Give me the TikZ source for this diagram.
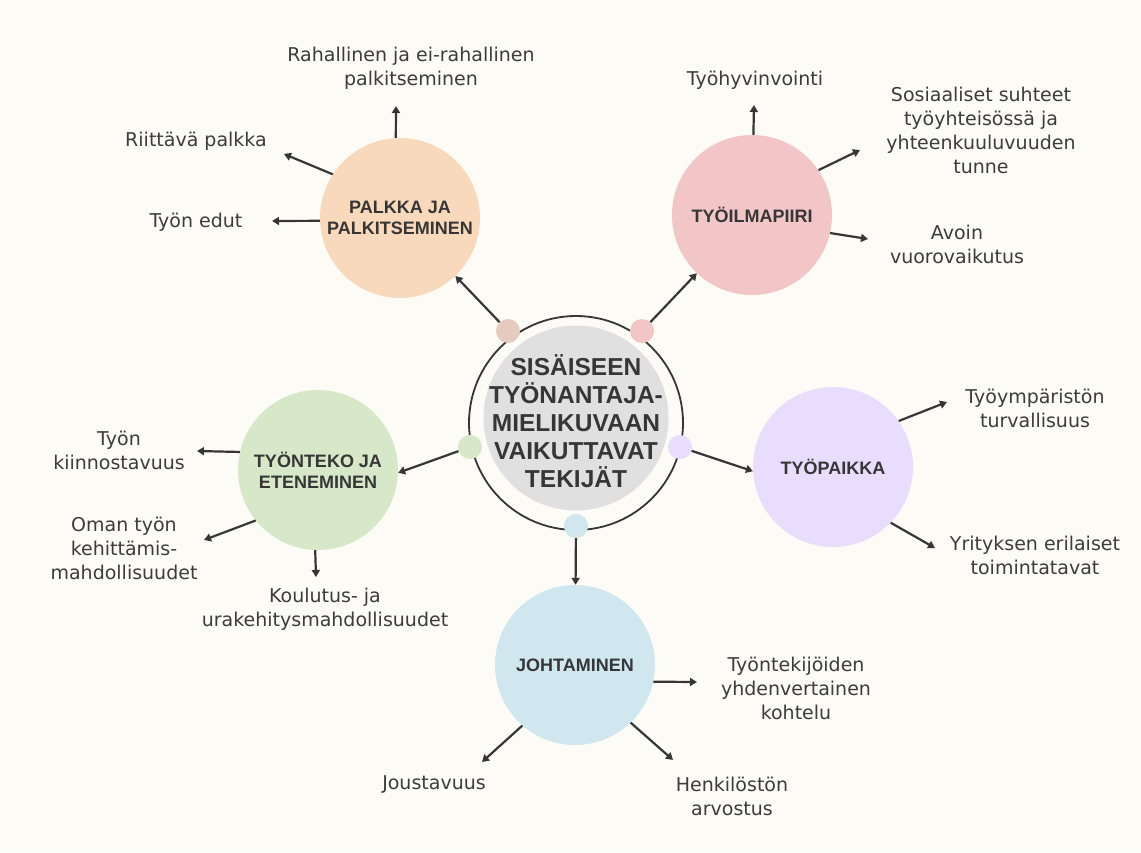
\documentclass[tikz,border=0pt]{standalone}
\usepackage{fontspec}
\setmainfont{DejaVu Sans}
\newfontfamily\headfont{Liberation Sans}
\usetikzlibrary{arrows.meta}
\definecolor{bgcol}{HTML}{FCFBF6}
\definecolor{ink}{HTML}{363636}
\definecolor{leafink}{HTML}{3C3C3C}
\definecolor{peach}{HTML}{F9D9BC}
\definecolor{rose}{HTML}{F2C5C7}
\definecolor{lilac}{HTML}{E9DDFD}
\definecolor{mint}{HTML}{D6E8C8}
\definecolor{sky}{HTML}{D0E7F0}
\definecolor{clay}{HTML}{E6CBBF}
\definecolor{greydisk}{HTML}{E0E0E0}

\begin{document}
\begin{tikzpicture}[x=1pt, y=-1pt,
  topic/.style={circle, minimum size=160pt, inner sep=0pt, align=center, text=ink, font=\headfont\bfseries\fontsize{18}{21}\selectfont},
  leaf/.style={align=center, text=leafink, font=\fontsize{19}{24}\selectfont},
  dot/.style={circle, minimum size=24pt, inner sep=0pt},
  arr/.style={draw=ink, line width=2.2pt, -{Triangle[length=7pt,width=8pt]}}]
\fill[bgcol] (0,0) rectangle (1141,852);
\useasboundingbox (0,0) rectangle (1141,852);

% centre
\node[circle, draw=ink, line width=1.8pt, minimum size=214pt, inner sep=0pt] (ring) at (576,423) {};
\node[circle, fill=greydisk, minimum size=185pt, inner sep=0pt] (core) at (576,418) {};
\node[align=center, text=ink, font=\headfont\bfseries\fontsize{24.5}{28}\selectfont] (title) at (576,421) {SISÄISEEN\\TYÖNANTAJA-\\MIELIKUVAAN\\VAIKUTTAVAT\\TEKIJÄT};
\node[dot, fill=clay] (d1) at (508,331) {};
\node[dot, fill=rose] (d2) at (642,331) {};
\node[dot, fill=mint] (d3) at (470,447) {};
\node[dot, fill=lilac] (d4) at (680,447) {};
\node[dot, fill=sky] (d5) at (576,526) {};

% Palkka
\node[topic, fill=peach] (palkka) at (400,218) {PALKKA JA\\PALKITSEMINEN};
\node[leaf] (raha) at (411,68) {Rahallinen ja ei-rahallinen\\palkitseminen};
\node[leaf] (riittava) at (196,141) {Riittävä palkka};
\node[leaf] (edut) at (196,222) {Työn edut};
\coordinate (raha-in) at (396,106);
\coordinate (riittava-in) at (284,154);
\coordinate (edut-in) at (272,221);
\draw[arr] (d1) -- (palkka);
\draw[arr] (palkka.93) -- (raha-in);
\draw[arr] (palkka.147) -- (riittava-in);
\draw[arr] (palkka.182) -- (edut-in);

% Tyoilmapiiri
\node[topic, fill=rose] (ilma) at (752,215) {TYÖILMAPIIRI};
\node[leaf] (hyvinvointi) at (755,80) {Työhyvinvointi};
\node[leaf] (sosiaaliset) at (981,130) {Sosiaaliset suhteet\\työyhteisössä ja\\yhteenkuuluvuuden\\tunne};
\node[leaf] (avoin) at (957,244) {Avoin\\vuorovaikutus};
\coordinate (hyvinvointi-in) at (754,105);
\coordinate (sosiaaliset-in) at (860,150);
\coordinate (avoin-in) at (868,239);
\draw[arr] (d2) -- (ilma);
\draw[arr] (ilma.89) -- (hyvinvointi-in);
\draw[arr] (ilma.34) -- (sosiaaliset-in);
\draw[arr] (ilma.-13) -- (avoin-in);

% Tyonteko
\node[topic, fill=mint] (tyonteko) at (318,470) {TYÖNTEKO JA\\ETENEMINEN};
\node[leaf] (kiinnostavuus) at (119,450) {Työn\\kiinnostavuus};
\node[leaf] (oman) at (124,548) {Oman työn\\kehittämis-\\mahdollisuudet};
\node[leaf] (koulutus) at (325,609) {Koulutus- ja\\urakehitysmahdollisuudet};
\coordinate (kiinnostavuus-in) at (197,451);
\coordinate (oman-in) at (204,540);
\coordinate (koulutus-in) at (316,577);
\draw[arr] (d3) -- (tyonteko.-2);
\draw[arr] (tyonteko.167) -- (kiinnostavuus-in);
\draw[arr] (tyonteko.219) -- (oman-in);
\draw[arr] (tyonteko.268) -- (koulutus-in);

% Tyopaikka
\node[topic, fill=lilac] (tyopaikka) at (833,467) {TYÖPAIKKA};
\node[leaf] (ymparisto) at (1035,408) {Työympäristön\\turvallisuus};
\node[leaf] (yrityksen) at (1035,555) {Yrityksen erilaiset\\toimintatavat};
\coordinate (ymparisto-in) at (947,402);
\coordinate (yrityksen-in) at (935,548);
\draw[arr] (d4) -- (tyopaikka.183);
\draw[arr] (tyopaikka.35) -- (ymparisto-in);
\draw[arr] (tyopaikka.-44) -- (yrityksen-in);

% Johtaminen
\node[topic, fill=sky] (johtaminen) at (575,665) {JOHTAMINEN};
\node[leaf] (kohtelu) at (796,688) {Työntekijöiden\\yhdenvertainen\\kohtelu};
\node[leaf] (joustavuus) at (434,784) {Joustavuus};
\node[leaf] (arvostus) at (732,796) {Henkilöstön\\arvostus};
\coordinate (kohtelu-in) at (697,682);
\coordinate (joustavuus-in) at (482,762);
\coordinate (arvostus-in) at (673,760);
\draw[arr] (d5) -- (johtaminen);
\draw[arr] (johtaminen.-12) -- (kohtelu-in);
\draw[arr] (johtaminen.229) -- (joustavuus-in);
\draw[arr] (johtaminen.-46) -- (arvostus-in);
\end{tikzpicture}
\end{document}
